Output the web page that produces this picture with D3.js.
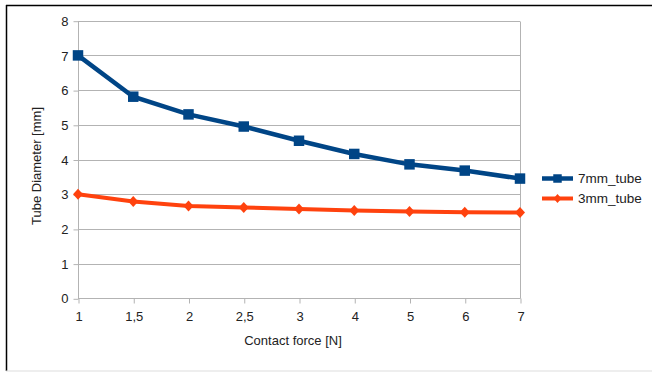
<!DOCTYPE html>
<html><head><meta charset="utf-8">
<script src="https://cdn.jsdelivr.net/npm/d3@7"></script>
<style>html,body{margin:0;padding:0;background:#fff;}svg{display:block;}</style>
</head><body>
<svg id="chart" width="652" height="372"></svg>
<script>
const categories = ["1","1,5","2","2,5","3","4","5","6","7"];
const tube7 = [7.0, 5.81, 5.3, 4.95, 4.54, 4.16, 3.86, 3.68, 3.45];
const tube3 = [3.0, 2.79, 2.66, 2.62, 2.57, 2.53, 2.5, 2.48, 2.47];
const yTicks = [0,1,2,3,4,5,6,7,8];
const seriesNames = ["7mm_tube","3mm_tube"];
const colors = ["#004586","#ff420e"];

const svg = d3.select("#chart");
const font = "Liberation Sans, Arial, sans-serif";

// outer frame
svg.append("line").attr("x1",6).attr("x2",652).attr("y1",5.5).attr("y2",5.5).attr("stroke","#000").attr("stroke-width",1.5);
svg.append("line").attr("x1",6.5).attr("x2",6.5).attr("y1",5).attr("y2",371).attr("stroke","#000").attr("stroke-width",1.5);
svg.append("line").attr("x1",6).attr("x2",652).attr("y1",371).attr("y2",371).attr("stroke","#ddd").attr("stroke-width",1);

const x = d3.scalePoint().domain(categories).range([78, 520]);
const y = d3.scaleLinear().domain([0, 8]).range([298.3, 20.7]);

const g = svg.append("g");
// gridlines
g.selectAll(".grid").data(yTicks).enter().append("line")
  .attr("x1",78).attr("x2",520)
  .attr("y1",d=>Math.round(y(d))+0.5).attr("y2",d=>Math.round(y(d))+0.5)
  .attr("stroke","#b3b3b3").attr("stroke-width",1);
// right border
g.append("line").attr("x1",520.5).attr("x2",520.5).attr("y1",Math.round(y(8))+0.5).attr("y2",Math.round(y(0))+0.5).attr("stroke","#b3b3b3");

// y axis
const yAxis = d3.axisLeft(y).tickValues(yTicks).tickSize(5).tickPadding(5).tickFormat(d3.format("d"));
const ya = svg.append("g").attr("transform","translate(78.5,0.5)").call(yAxis);
ya.select(".domain").attr("stroke","#b3b3b3").attr("d", `M0,${y(8)}V${y(0)}`);
ya.selectAll(".tick line").attr("stroke","#b3b3b3");
ya.selectAll(".tick text").attr("font-family",font).attr("font-size",13).attr("fill","#222");

// x axis
const xAxis = d3.axisBottom(x).tickSize(5).tickPadding(8);
const xa = svg.append("g").attr("transform",`translate(0.5,${Math.round(y(0))+0.5})`).call(xAxis);
xa.select(".domain").attr("stroke","#b3b3b3").attr("d","M78,0H520");
xa.selectAll(".tick line").attr("stroke","#b3b3b3");
xa.selectAll(".tick text").attr("font-family",font).attr("font-size",13).attr("fill","#222");

// axis titles
svg.append("text").attr("x",293).attr("y",345).attr("text-anchor","middle")
  .attr("font-family",font).attr("font-size",13).attr("fill","#222").text("Contact force [N]");
svg.append("text").attr("transform","translate(41,166) rotate(-90)").attr("text-anchor","middle")
  .attr("font-family",font).attr("font-size",13).attr("fill","#222").text("Tube Diameter [mm]");

const line = d3.line().x((d,i)=>x(categories[i])).y(d=>y(d));
const data = [tube7, tube3];
const widths = [4.5, 4];

data.forEach((s,k)=>{
  svg.append("path").datum(s).attr("d",line).attr("fill","none")
    .attr("stroke",colors[k]).attr("stroke-width",widths[k]).attr("stroke-linejoin","miter");
});
// markers
const sq = d3.symbol().type(d3.symbolSquare).size(110);
const dia = (cx,cy,w,h)=>`M${cx},${cy-h}L${cx+w},${cy}L${cx},${cy+h}L${cx-w},${cy}Z`;
svg.append("g").selectAll("path").data(tube7).enter().append("path")
  .attr("d",sq).attr("transform",(d,i)=>`translate(${x(categories[i])},${y(d)})`).attr("fill",colors[0]);
svg.append("g").selectAll("path").data(tube3).enter().append("path")
  .attr("d",(d,i)=>dia(x(categories[i]),y(d),5,5.5)).attr("fill",colors[1]);

// legend
const leg = svg.append("g");
const ly = [178.5, 198.5];
seriesNames.forEach((n,k)=>{
  leg.append("line").attr("x1",542).attr("x2",573).attr("y1",ly[k]).attr("y2",ly[k])
    .attr("stroke",colors[k]).attr("stroke-width",widths[k]);
  if(k===0){
    leg.append("path").attr("d",d3.symbol().type(d3.symbolSquare).size(72)).attr("transform",`translate(557.5,${ly[k]})`).attr("fill",colors[k]);
  } else {
    leg.append("path").attr("d",dia(557.5,ly[k],4,4.5)).attr("fill",colors[k]);
  }
  leg.append("text").attr("x",578).attr("y",ly[k]+4.5).attr("font-family",font).attr("font-size",13.5)
    .attr("fill","#222").text(n);
});
</script>
</body></html>
